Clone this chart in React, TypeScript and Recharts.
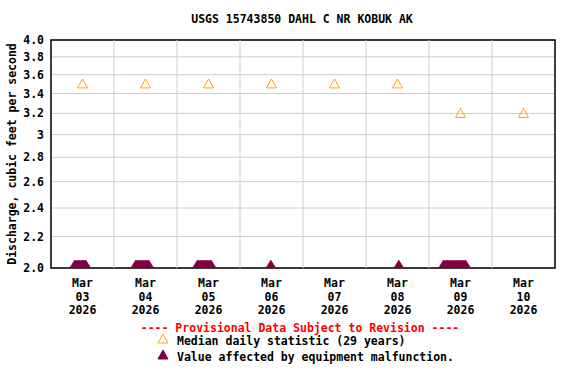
import { ComposedChart, Scatter, XAxis, YAxis, CartesianGrid, ReferenceLine, ReferenceArea } from 'recharts'

// station + labels
const title = 'USGS 15743850 DAHL C NR KOBUK AK'
const yLabel = 'Discharge, cubic feet per second'
const months = ['Mar', 'Mar', 'Mar', 'Mar', 'Mar', 'Mar', 'Mar', 'Mar']
const days = ['03', '04', '05', '06', '07', '08', '09', '10']
const years = ['2026', '2026', '2026', '2026', '2026', '2026', '2026', '2026']

// median daily statistic, one per day (noon of each day)
const medianDays = [0.5, 1.5, 2.5, 3.5, 4.5, 5.5, 6.5, 7.5]
const medianValues = [3.5, 3.5, 3.5, 3.5, 3.5, 3.5, 3.2, 3.2]

// readings flagged as equipment malfunction ("DD HH:MM" in March 2026)
const malfunctionTimes = [
  '03 09:00', '03 09:30', '03 10:00', '03 10:30', '03 11:00', '03 11:30', '03 12:00', '03 12:30', '03 13:00', '03 13:15',
  '04 08:15', '04 08:45', '04 09:15', '04 09:45', '04 10:15', '04 10:45', '04 11:15', '04 11:45', '04 12:15', '04 12:45', '04 13:15',
  '05 07:45', '05 08:15', '05 08:45', '05 09:15', '05 09:45', '05 10:15', '05 10:45', '05 11:15', '05 11:45', '05 12:15', '05 12:45', '05 13:00',
  '06 11:45',
  '08 12:30',
  '09 05:30', '09 06:00', '09 06:30', '09 07:00', '09 07:30', '09 08:00', '09 08:30', '09 09:00', '09 09:30',
  '09 10:00', '09 10:30', '09 11:00', '09 11:30', '09 12:00', '09 12:30', '09 13:00', '09 13:30', '09 14:00',
]
const malfunctionValues = malfunctionTimes.map(() => 2.0)

const yTicks = [2.0, 2.2, 2.4, 2.6, 2.8, 3.0, 3.2, 3.4, 3.6, 3.8, 4.0]
const dayTicks = [0.5, 1.5, 2.5, 3.5, 4.5, 5.5, 6.5, 7.5]
const dayBounds = [1, 2, 3, 4, 5, 6, 7]

// days since Mar 03 00:00
const toDays = (s: string) => {
  const [d, hm] = s.split(' ')
  const [h, m] = hm.split(':').map(Number)
  return Number(d) - 3 + (h + m / 60) / 24
}

const medianData = medianDays.map((t, i) => ({ t, v: medianValues[i] }))
const malfunctionData = malfunctionTimes.map((s, i) => ({ t: toDays(s), v: malfunctionValues[i] }))

const FONT = '"DejaVu Sans Mono", monospace'
const ORANGE = '#FFA500'
const MAROON = '#800040'

const openTriangle = (props: any) => {
  const { cx, cy } = props
  return <path d={`M${cx},${cy - 5} L${cx + 5},${cy + 4} L${cx - 5},${cy + 4} Z`} fill="none" stroke={ORANGE} strokeWidth={1} />
}

const solidTriangle = (props: any) => {
  const { cx, cy } = props
  return <path d={`M${cx},${cy - 8} L${cx + 5},${cy} L${cx - 5},${cy} Z`} fill={MAROON} stroke={MAROON} strokeWidth={0.5} />
}

const fmtY = (v: number) => (v === 2 || v === 4 ? v.toFixed(1) : String(v))

const DateTick = (props: any) => {
  const { x, y, index } = props
  return (
    <text x={x} y={y} textAnchor="middle" fontFamily={FONT} fontWeight="bold" fontSize={11.5} fill="#000">
      <tspan x={x} dy={8}>{months[index]}</tspan>
      <tspan x={x} dy={13.5}>{days[index]}</tspan>
      <tspan x={x} dy={13.5}>{years[index]}</tspan>
    </text>
  )
}

export default function App() {
  return (
    <div style={{ position: 'absolute', left: 0, top: 0, width: 576, height: 384, background: '#fff', fontFamily: FONT }}>
      <div style={{ position: 'absolute', left: 0, top: 12, width: 604, textAlign: 'center', fontSize: 11.5, fontWeight: 'bold' }}>
        {title}
      </div>
      <ComposedChart width={576} height={384} margin={{ top: 40, right: 21, bottom: 66, left: 0 }}>
        <CartesianGrid stroke="#cccccc" vertical={false} />
        <XAxis
          dataKey="t"
          type="number"
          domain={[0, 8]}
          ticks={dayTicks}
          interval={0}
          axisLine={false}
          tickLine={false}
          tickSize={0}
          tickMargin={11}
          height={50}
          tick={<DateTick />}
        />
        <YAxis
          dataKey="v"
          type="number"
          scale="log"
          domain={[2, 4]}
          allowDataOverflow
          ticks={yTicks}
          interval={0}
          tickFormatter={fmtY}
          width={51}
          axisLine={false}
          tickLine={false}
          tickSize={0}
          tickMargin={7}
          tick={{ fontFamily: FONT, fontWeight: 'bold', fontSize: 11.5, fill: '#000' }}
          label={({ viewBox }: any) => (
            <text
              x={12}
              y={viewBox.y + viewBox.height / 2}
              transform={`rotate(-90, 12, ${viewBox.y + viewBox.height / 2})`}
              textAnchor="middle"
              dominantBaseline="middle"
              fontFamily={FONT}
              fontWeight="bold"
              fontSize={11.5}
              fill="#000"
            >
              {yLabel}
            </text>
          )}
        />
        {dayBounds.map((b) => (
          <ReferenceLine key={b} x={b} stroke="#cccccc" strokeWidth={1} />
        ))}
        <Scatter data={medianData} dataKey="v" shape={openTriangle} isAnimationActive={false} />
        <Scatter data={malfunctionData} dataKey="v" shape={solidTriangle} isAnimationActive={false} />
        <ReferenceArea x1={0} x2={8} y1={2} y2={4} fill="none" stroke="#000" strokeWidth={1.5} ifOverflow="visible" />
      </ComposedChart>
      <div style={{ position: 'absolute', left: 0, top: 321, width: 600, textAlign: 'center', fontSize: 11.5, fontWeight: 'bold', color: '#ff0000' }}>
        ---- Provisional Data Subject to Revision ----
      </div>
      <svg style={{ position: 'absolute', left: 157, top: 333 }} width={14} height={30}>
        <path d="M6,1 L11,10 L1,10 Z" fill="none" stroke={ORANGE} strokeWidth={1} />
        <path d="M6,17 L11,26 L1,26 Z" fill={MAROON} stroke={MAROON} strokeWidth={1} />
      </svg>
      <div style={{ position: 'absolute', left: 177, top: 333, fontSize: 11.5, fontWeight: 'bold', lineHeight: '16px' }}>
        <div>Median daily statistic (29 years)</div>
        <div>Value affected by equipment malfunction.</div>
      </div>
    </div>
  )
}
